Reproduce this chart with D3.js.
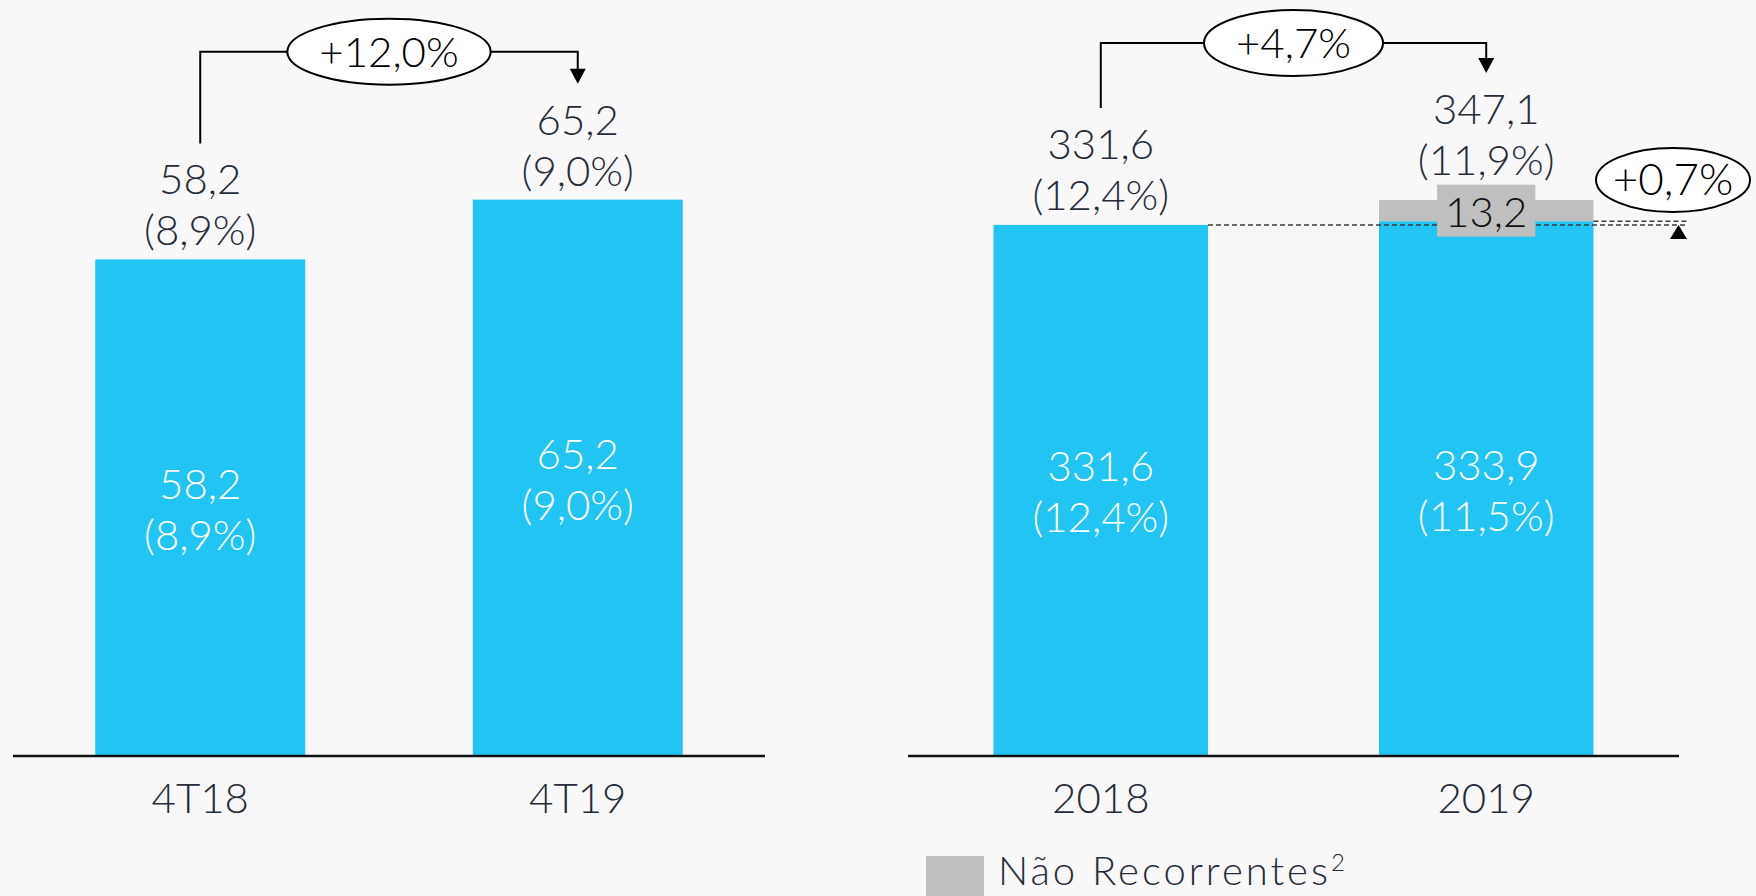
<!DOCTYPE html>
<html>
<head>
<meta charset="utf-8">
<script src="https://cdn.jsdelivr.net/npm/d3@7"></script>
<style>
  body { margin: 0; background: #f8f8f8; }
  text { font-family: "Lato", "Open Sans", sans-serif; font-weight: 300; }
</style>
</head>
<body>
<svg id="canves"></svg>
<script>
let quarters = ["4T18", "4T19"];
let quarterValues = [58.2, 65.2];
let quarterMargins = ["8,9%", "9,0%"];
let quarterGrowth = "+12,0%";

let years = ["2018", "2019"];
let yearRecurring = [331.6, 333.9];
let yearNonRecurring = [0, 13.2];
let yearTotalMargins = ["12,4%", "11,9%"];
let yearRecurringMargins = ["12,4%", "11,5%"];
let yearGrowth = "+4,7%";
let recurringGrowth = "+0,7%";
let legendText = "Não Recorrentes";

let w = 1756;
let h = 896;
let baseY = 756;
let blue = "#22c4f3";
let grey = "#bfbfbf";
let dark = "#262c38";
let fs = 42;

let fmt = (v) => d3.format(".1f")(v).replace(".", ",");

let canves = d3.select("#canves").attr("width", w).attr("height", h);

canves.append("rect").attr("width", w).attr("height", h).attr("fill", "#f8f8f8");

let xq = d3.scaleBand().domain(quarters).range([13, 765]).paddingInner(0.444).paddingOuter(0.218);
let yq = d3.scaleLinear().domain([0, 88.6]).range([baseY, 0]);

let xy = d3.scaleBand().domain(years).range([908, 1679]).paddingInner(0.4436).paddingOuter(0.222);
let yy = d3.scaleLinear().domain([0, 472]).range([baseY, 0]);

let twoLines = (g, cx, y1, l1, l2, color) => {
  let t = g.append("text").attr("text-anchor", "middle").attr("fill", color).attr("font-size", fs);
  t.append("tspan").attr("x", cx).attr("y", y1).text(l1);
  t.append("tspan").attr("x", cx).attr("y", y1 + 51).text(l2);
};

let bracket = (cx1, cx2, yStart, yEnd, yTop, label) => {
  let g = canves.append("g");
  let mid = (cx1 + cx2) / 2;
  let t = g.append("text").attr("x", mid).attr("y", yTop + 15).attr("text-anchor", "middle")
           .attr("font-size", fs).attr("fill", "#000").text(label);
  let rx = t.node().getComputedTextLength() / 2 + 32;
  g.append("path")
   .attr("d", `M${cx1},${yStart}V${yTop}H${mid - rx}M${mid + rx},${yTop}H${cx2}V${yEnd - 14}`)
   .attr("fill", "none").attr("stroke", "#000").attr("stroke-width", 2);
  g.append("path")
   .attr("d", `M${cx2 - 8},${yEnd - 15}L${cx2 + 8},${yEnd - 15}L${cx2},${yEnd}Z`)
   .attr("fill", "#000");
  g.insert("ellipse", "text").attr("cx", mid).attr("cy", yTop).attr("rx", rx).attr("ry", 33)
   .attr("fill", "#fff").attr("stroke", "#000").attr("stroke-width", 2);
};

// left panel - quarters
let left = canves.append("g");
left.selectAll("rect.bar")
    .data(quarters)
    .enter()
    .append("rect")
    .attr("class", "bar")
    .attr("x", (d) => xq(d))
    .attr("width", xq.bandwidth())
    .attr("y", (d, i) => yq(quarterValues[i]))
    .attr("height", (d, i) => baseY - yq(quarterValues[i]))
    .attr("fill", blue);

quarters.forEach((q, i) => {
  let cx = xq(q) + xq.bandwidth() / 2;
  let top = yq(quarterValues[i]);
  twoLines(left, cx, top - 65, fmt(quarterValues[i]), "(" + quarterMargins[i] + ")", dark);
  let mid = (top + baseY) / 2;
  twoLines(left, cx, mid - 9, fmt(quarterValues[i]), "(" + quarterMargins[i] + ")", "#fff");
  left.append("text").attr("x", cx).attr("y", 813).attr("text-anchor", "middle")
      .attr("font-size", fs).attr("fill", dark).text(q);
});

left.append("line").attr("x1", 13).attr("x2", 765).attr("y1", baseY).attr("y2", baseY)
    .attr("stroke", "#111").attr("stroke-width", 2.5);

let qb = quarterValues.map((v) => yq(v) - 65);
bracket(xq(quarters[0]) + xq.bandwidth() / 2, xq(quarters[1]) + xq.bandwidth() / 2,
        qb[0] - 51, qb[1] - 51, d3.min(qb) - 83, quarterGrowth);

// right panel - years
let right = canves.append("g");
right.selectAll("rect.rec")
     .data(years)
     .enter()
     .append("rect")
     .attr("class", "rec")
     .attr("x", (d) => xy(d))
     .attr("width", xy.bandwidth())
     .attr("y", (d, i) => yy(yearRecurring[i]))
     .attr("height", (d, i) => baseY - yy(yearRecurring[i]))
     .attr("fill", blue);

right.selectAll("rect.nrec")
     .data(years)
     .enter()
     .append("rect")
     .attr("class", "nrec")
     .attr("x", (d) => xy(d))
     .attr("width", xy.bandwidth())
     .attr("y", (d, i) => yy(yearRecurring[i] + yearNonRecurring[i]))
     .attr("height", (d, i) => yy(yearRecurring[i]) - yy(yearRecurring[i] + yearNonRecurring[i]))
     .attr("fill", grey);

// dashed reference lines
let ref0 = yy(yearRecurring[0]);
let ref1 = yy(yearRecurring[1]);
right.append("line").attr("x1", xy(years[0]) + xy.bandwidth()).attr("x2", 1688)
     .attr("y1", ref0).attr("y2", ref0)
     .attr("stroke", "#3a3a3a").attr("stroke-width", 1.5).attr("stroke-dasharray", "5,3");
right.append("line").attr("x1", xy(years[1]) + xy.bandwidth()).attr("x2", 1688)
     .attr("y1", ref1).attr("y2", ref1)
     .attr("stroke", "#3a3a3a").attr("stroke-width", 1.5).attr("stroke-dasharray", "5,3");

let yb = [];
years.forEach((yr, i) => {
  let cx = xy(yr) + xy.bandwidth() / 2;
  let total = yearRecurring[i] + yearNonRecurring[i];
  let top = yy(total);
  let off = yearNonRecurring[i] > 0 ? 76 : 66;
  yb.push(top - off);
  twoLines(right, cx, top - off, fmt(total), "(" + yearTotalMargins[i] + ")", dark);
  let mid = (yy(yearRecurring[i]) + baseY) / 2;
  twoLines(right, cx, mid - 9, fmt(yearRecurring[i]), "(" + yearRecurringMargins[i] + ")", "#fff");
  right.append("text").attr("x", cx).attr("y", 813).attr("text-anchor", "middle")
       .attr("font-size", fs).attr("fill", dark).text(yr);
  if (yearNonRecurring[i] > 0) {
    let gm = (yy(total) + yy(yearRecurring[i])) / 2;
    let t = right.append("text").attr("x", cx).attr("y", gm + 16).attr("text-anchor", "middle")
                 .attr("font-size", fs).attr("fill", "#111").text(fmt(yearNonRecurring[i]));
    let tw = t.node().getComputedTextLength();
    right.insert("rect", "text").attr("x", cx - tw / 2 - 8).attr("y", gm - 26)
         .attr("width", tw + 16).attr("height", 52).attr("fill", grey);
  }
});

right.append("line").attr("x1", 908).attr("x2", 1679).attr("y1", baseY).attr("y2", baseY)
     .attr("stroke", "#111").attr("stroke-width", 2.5);

bracket(xy(years[0]) + xy.bandwidth() / 2, xy(years[1]) + xy.bandwidth() / 2,
        yb[0] - 51, yb[1] - 51, d3.min(yb) - 81, yearGrowth);

// +0,7% bubble
let bub = canves.append("g");
bub.append("ellipse").attr("cx", 1673).attr("cy", 180).attr("rx", 77).attr("ry", 32)
   .attr("fill", "#fff").attr("stroke", "#000").attr("stroke-width", 2);
bub.append("text").attr("x", 1673).attr("y", 195).attr("text-anchor", "middle")
   .attr("font-size", 44).attr("fill", "#000").text(recurringGrowth);
bub.append("path").attr("d", `M1670,${ref0 + 14}L1687,${ref0 + 14}L1678.5,${ref0}Z`).attr("fill", "#000");

// legend
let leg = canves.append("g");
leg.append("rect").attr("x", 926).attr("y", 856).attr("width", 58).attr("height", 58).attr("fill", grey);
let lt = leg.append("text").attr("x", 998).attr("y", 885).attr("font-size", 40)
            .attr("letter-spacing", 3).attr("fill", dark);
lt.append("tspan").text(legendText);
lt.append("tspan").attr("font-size", 24).attr("letter-spacing", 0).attr("dy", -14).text("2");
</script>
</body>
</html>
